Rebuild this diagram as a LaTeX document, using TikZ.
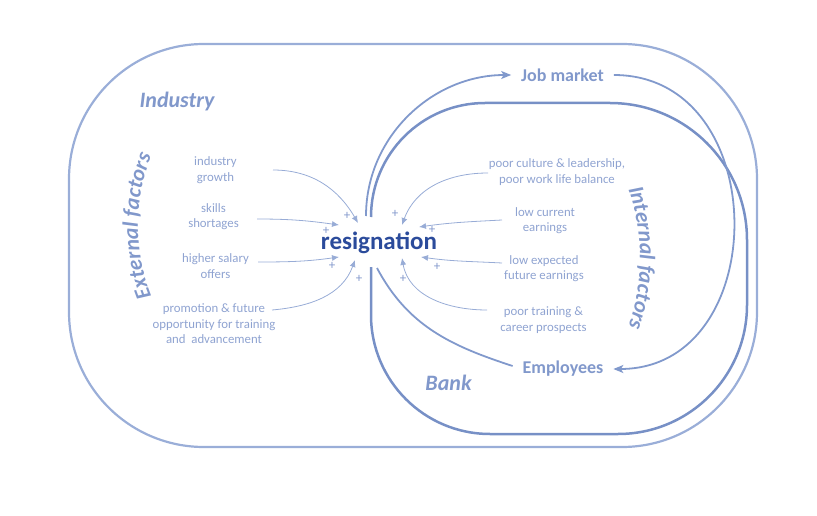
\documentclass[tikz,border=0pt]{standalone}
\usepackage{fontspec}
\setmainfont{Carlito}
\usetikzlibrary{arrows.meta,decorations.text}
\definecolor{outerc}{HTML}{9AAED8}
\definecolor{bankc}{HTML}{7790C6}
\definecolor{flowc}{HTML}{8199CC}
\definecolor{lblc}{HTML}{8FA3D1}
\definecolor{hdc}{HTML}{8198CB}
\definecolor{resc}{HTML}{2B4B9B}
\definecolor{thinc}{HTML}{98ACD6}
\definecolor{plc}{HTML}{8499CC}
\begin{document}
\begin{tikzpicture}[x=1pt,y=1pt,
  lbl/.style={font=\fontsize{12.8}{15.5}\selectfont, text=lblc, align=center, inner sep=2pt},
  hd/.style={font=\fontsize{18}{20}\selectfont\bfseries, text=hdc, inner sep=2pt, outer sep=8pt},
  region/.style={font=\fontsize{22}{24}\selectfont\bfseries\itshape, text=hdc},
  pl/.style={font=\fontsize{13}{13}\selectfont, text=plc, inner sep=0pt},
  thin/.style={draw=thinc, line width=0.8pt, -{Latex[length=7pt,width=6pt]}},
  flow/.style={draw=flowc, line width=1.8pt, -{Stealth[length=10pt,width=8pt,inset=2.5pt]}},
  flowline/.style={draw=flowc, line width=1.8pt},
]
\useasboundingbox (0,0) rectangle (817,-516);

% Industry boundary
\draw[draw=outerc, line width=2.2pt, rounded corners=135pt] (69,-44) rectangle (757,-447);

% Bank boundary (open at resignation)
\draw[draw=bankc, line width=2.5pt] (371,-217) arc[start angle=180,end angle=90,radius=114]
  -- (610,-103) arc[start angle=90,end angle=0,radius=137]
  -- (747,-305) arc[start angle=0,end angle=-90,radius=129]
  -- (490,-434) arc[start angle=270,end angle=180,radius=119]
  -- (371,-267);

% main nodes
\node[font=\fontsize{25}{28}\selectfont\bfseries, text=resc, anchor=base, inner sep=0pt] (res) at (379,-249) {resignation};
\node[hd] (jm) at (562.5,-75) {Job market};
\node[hd] (emp) at (563,-369) {Employees};
\node[region] (ind) at (177,-102) {Industry};
\node[region] (bank) at (448.5,-383) {Bank};

% curved region titles
\path[decorate, decoration={text along path, text align=center,
  text={|\fontsize{22}{24}\selectfont\bfseries\itshape\color{hdc}|External factors}}]
  ([shift={(206:190)}]328,-226) arc[start angle=206,end angle=154,radius=190];
\path[decorate, decoration={text along path, text align=center,
  text={|\fontsize{22}{24}\selectfont\bfseries\itshape\color{hdc}|Internal factors}}]
  ([shift={(25:210)}]430,-258) arc[start angle=25,end angle=-25,radius=210];

% factor labels
\node[lbl] (ig) at (215.5,-170) {industry\\growth};
\node[lbl] (ss) at (213.5,-216.5) {skills\\shortages};
\node[lbl] (hs) at (215.5,-266) {higher salary\\offers};
\node[lbl] (pf) at (214,-324) {promotion \& future\\opportunity for training\\and\ \ advancement};
\node[lbl] (pc) at (557,-172) {poor culture \& leadership,\\poor work life balance};
\node[lbl] (lc) at (545,-220.5) {low current\\earnings};
\node[lbl] (le) at (544,-268.5) {low expected\\future earnings};
\node[lbl] (pt) at (543.5,-320) {poor training \&\\career prospects};

% arrow tips near resignation
\coordinate (t1) at (358,-223);
\coordinate (t2) at (339,-225);
\coordinate (t3) at (339,-257);
\coordinate (t4) at (355,-260);
\coordinate (t5) at (402,-225);
\coordinate (t6) at (419,-227);
\coordinate (t7) at (421,-257);
\coordinate (t8) at (402,-258);
\coordinate (jst) at (366,-216);
\coordinate (est) at (377,-268);

% factor arrows
\draw[thin] ([shift={(57.5,0)}]ig.center) to[out=0,in=120] (t1);
\draw[thin] ([shift={(43.5,-2.5)}]ss.center) to[out=0,in=172] (t2);
\draw[thin] ([shift={(42.5,4)}]hs.center) to[out=0,in=188] (t3);
\draw[thin] ([shift={(58,14)}]pf.center) to[out=5,in=-110] (t4);
\draw[thin] ([shift={(-69,-1)}]pc.center) to[out=180,in=70] (t5);
\draw[thin] ([shift={(-43,0.5)}]lc.center) to[out=183,in=8] (t6);
\draw[thin] ([shift={(-42,5.5)}]le.center) to[out=177,in=-8] (t7);
\draw[thin] ([shift={(-56.5,10)}]pt.center) to[out=180,in=-80] (t8);

% plus signs
\node[pl] (p1) at (347,-216) {+};
\node[pl] (p2) at (326,-231) {+};
\node[pl] (p3) at (332,-266) {+};
\node[pl] (p4) at (359,-279) {+};
\node[pl] (p5) at (395,-214) {+};
\node[pl] (p6) at (432,-230) {+};
\node[pl] (p7) at (437,-267) {+};
\node[pl] (p8) at (403,-279) {+};

% flows
\draw[flow] (jst) to[out=90,in=180] (jm.west);
\draw[flow] (jm.east) .. controls +(160,0) and +(160,0) .. (emp.east);
\draw[flowline] ([yshift=3pt]emp.west) to[out=162,in=-62] (est);
\end{tikzpicture}
\end{document}
